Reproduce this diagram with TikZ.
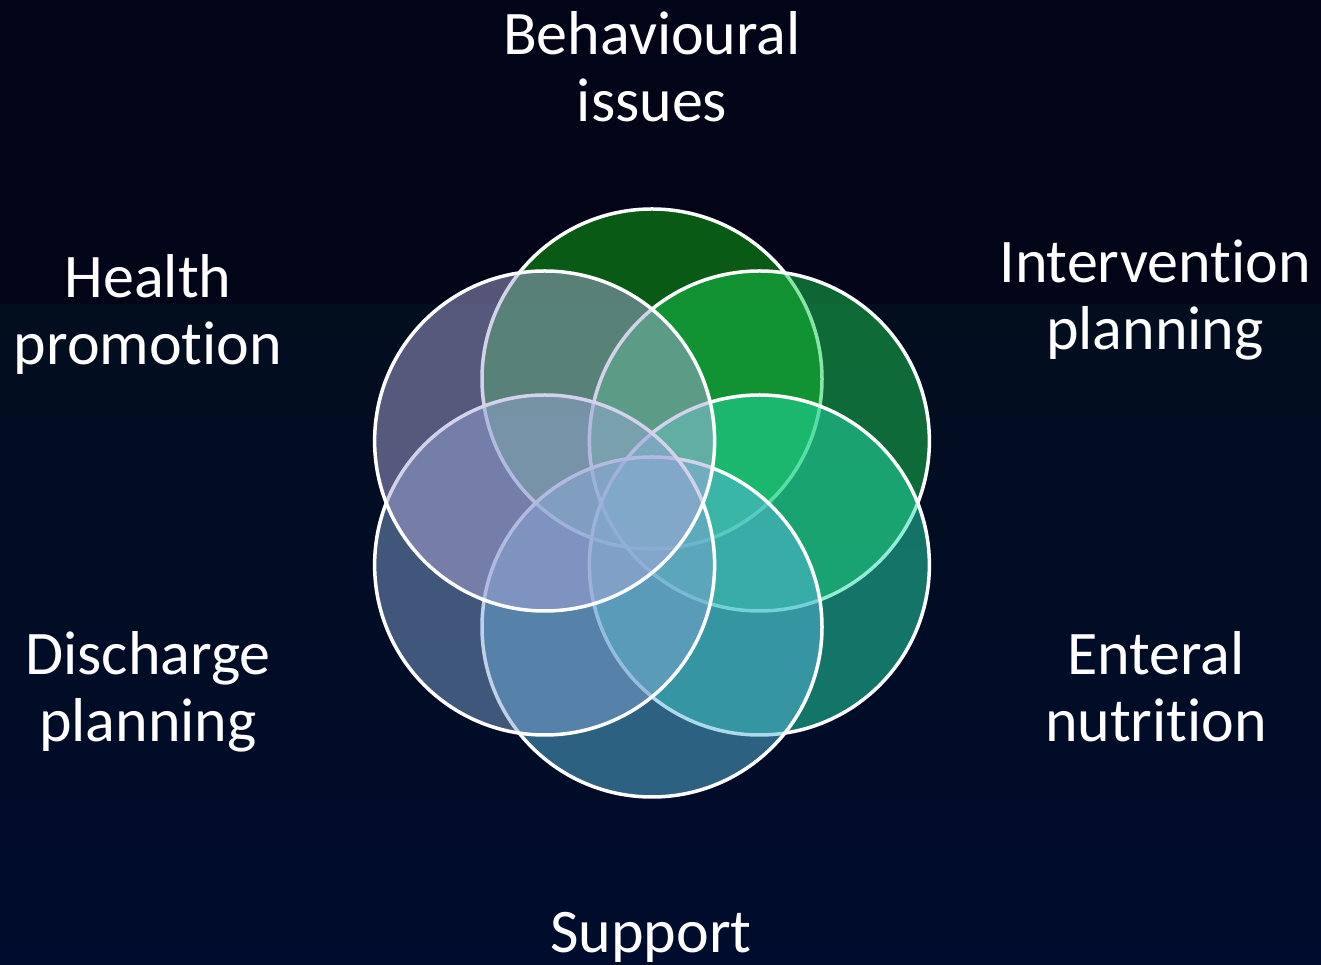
\documentclass[tikz,border=0pt]{standalone}
\usepackage{fontspec}
\setmainfont{Carlito}[Ligatures=NoCommon]
\usepackage{xcolor}
\usetikzlibrary{calc,positioning}

\begin{document}
\begin{tikzpicture}[x=1pt,y=1pt,
    petal/.style={draw=white,line width=3.5pt,fill opacity=.5},
    topic/.style={text=white,align=center,font=\fontsize{62}{67}\selectfont}]
  \definecolor{night}{RGB}{2,4,24}
  \definecolor{dusk}{RGB}{2,13,30}
  \definecolor{deep}{RGB}{0,12,45}
  \definecolor{cTop}{RGB}{16,176,20}
  \definecolor{cUR}{RGB}{26,200,80}
  \definecolor{cLR}{RGB}{38,220,170}
  \definecolor{cBot}{RGB}{88,182,220}
  \definecolor{cLL}{RGB}{128,162,210}
  \definecolor{cUL}{RGB}{168,166,216}
  \useasboundingbox (0,0) rectangle (1321,965);
  % background
  \fill[night] (0,660) rectangle (1321,965);
  \shade[top color=dusk,bottom color=deep] (0,0) rectangle (1321,660);
  % six petals, drawn clockwise from the top
  \coordinate (O) at (652,462);
  \foreach \ang/\col/\name in {90/cTop/top,30/cUR/ur,-30/cLR/lr,-90/cBot/bot,-150/cLL/ll,150/cUL/ul}{
      \coordinate (\name) at ($(O)+(\ang:124)$);
      \draw[petal,fill=\col] (\name) circle (170pt);
    }
  % labels (base = last line)
  \node[topic,anchor=base] (behav) at (652,843) {Behavioural\\issues};
  \node[topic,anchor=base] (health) at (148,600) {Health\\promotion};
  \node[topic,anchor=base] (interv) at (1155,615) {Intervention\\planning};
  \node[topic,anchor=base] (discharge) at (148,223) {Discharge\\planning};
  \node[topic,anchor=base] (enteral) at (1156,223) {Enteral\\nutrition};
  \node[topic,anchor=base] (support) at (651,12) {Support};
\end{tikzpicture}
\end{document}
